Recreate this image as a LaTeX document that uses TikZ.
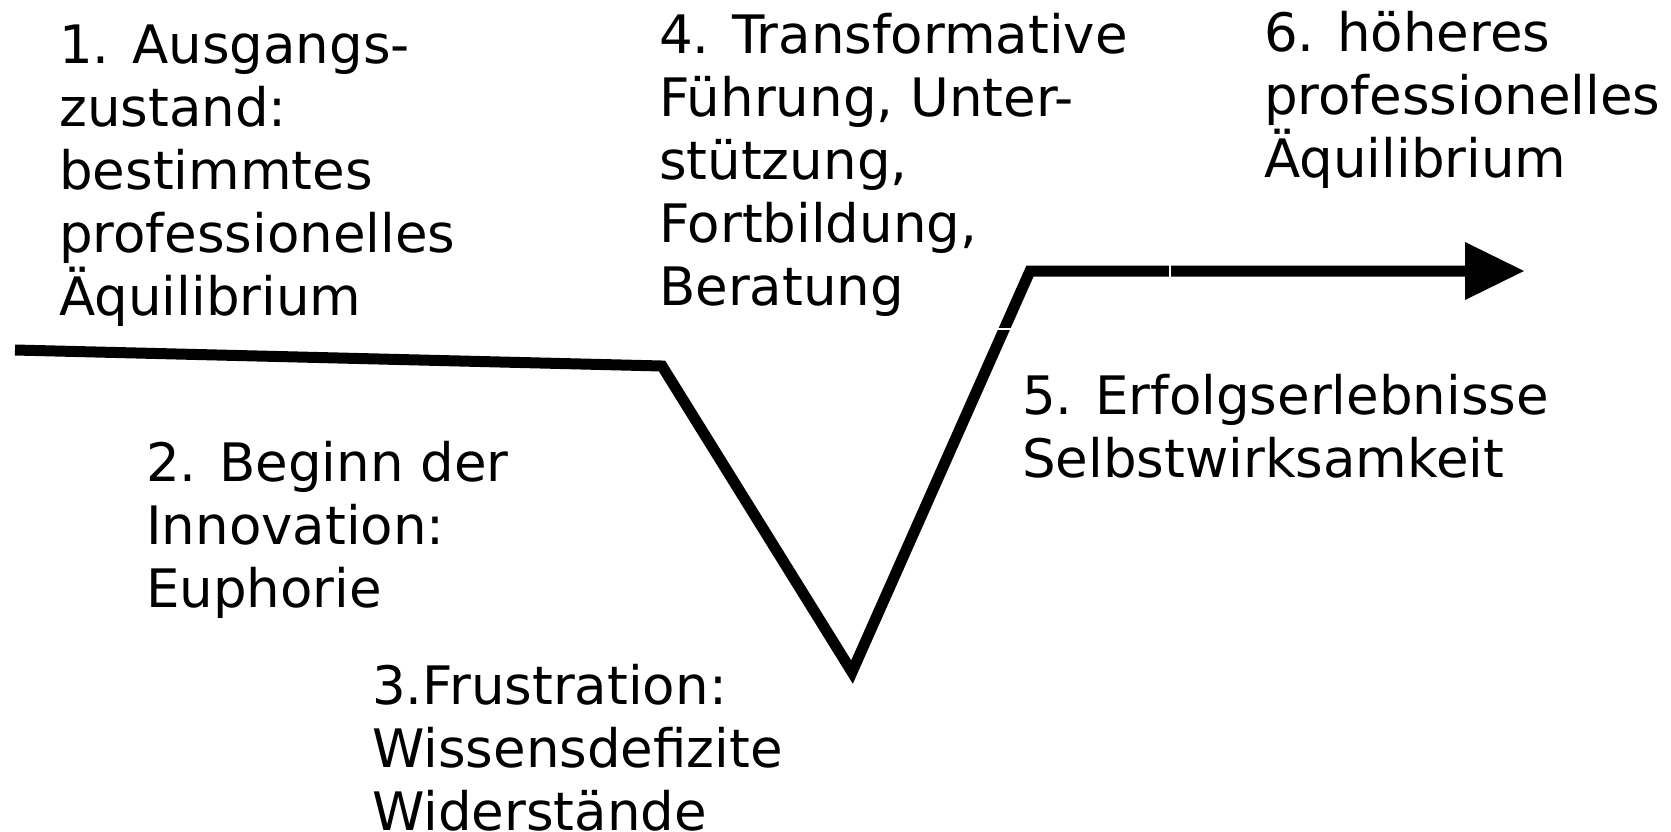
\documentclass[tikz,border=0pt]{standalone}
\usepackage{fontspec}
\setmainfont{DejaVu Sans}
\begin{document}
\begin{tikzpicture}[x=1pt,y=-1pt,
  lbl/.style={anchor=base west,inner sep=0pt,font=\fontsize{53}{63}\selectfont},
  curve/.style={line width=11pt,line join=miter,line cap=butt},
  gapline/.style={white,line width=1.6pt}]
\useasboundingbox (0,0) rectangle (1671,831);
% key points of the curve
\coordinate (p0) at (15,350);
\coordinate (p1) at (662,366);
\coordinate (p2) at (852,672);
\coordinate (p3) at (1030,271);
\coordinate (p4) at (1466,271);
\coordinate (tip) at (1524,271);
% labels
\node[lbl] (n1) at (59,63) {\vtop{\hbox{1. Ausgangs-}\hbox{zustand:}\hbox{bestimmtes}\hbox{professionelles}\hbox{Äquilibrium}}};
\node[lbl] (n2) at (146,481) {\vtop{\hbox{2. Beginn der}\hbox{Innovation:}\hbox{Euphorie}}};
\node[lbl] (n3) at (372,704) {\vtop{\hbox{3.Frustration:}\hbox{Wissensdefizite}\hbox{Widerstände}}};
\node[lbl] (n4) at (659,53) {\vtop{\hbox{4. Transformative}\hbox{Führung, Unter-}\hbox{stützung,}\hbox{Fortbildung,}\hbox{Beratung}}};
\node[lbl] (n5) at (1022,414) {\vtop{\hbox{5. Erfolgserlebnisse}\hbox{Selbstwirksamkeit}}};
\node[lbl] (n6) at (1264,51) {\vtop{\hbox{6. höheres}\hbox{professionelles}\hbox{Äquilibrium}}};
% curve
\draw[curve] (p0) -- (p1) -- (p2) -- (p3) -- (p4);
\fill (1465,242) -- (tip) -- (1465,300) -- cycle;
% thin gaps in the stroke
\coordinate (g1a) at (994,329);
\coordinate (g1b) at (1014,329);
\coordinate (g2a) at (1170,262);
\coordinate (g2b) at (1170,280);
\draw[gapline] (g1a) -- (g1b);
\draw[gapline] (g2a) -- (g2b);
\end{tikzpicture}
\end{document}
